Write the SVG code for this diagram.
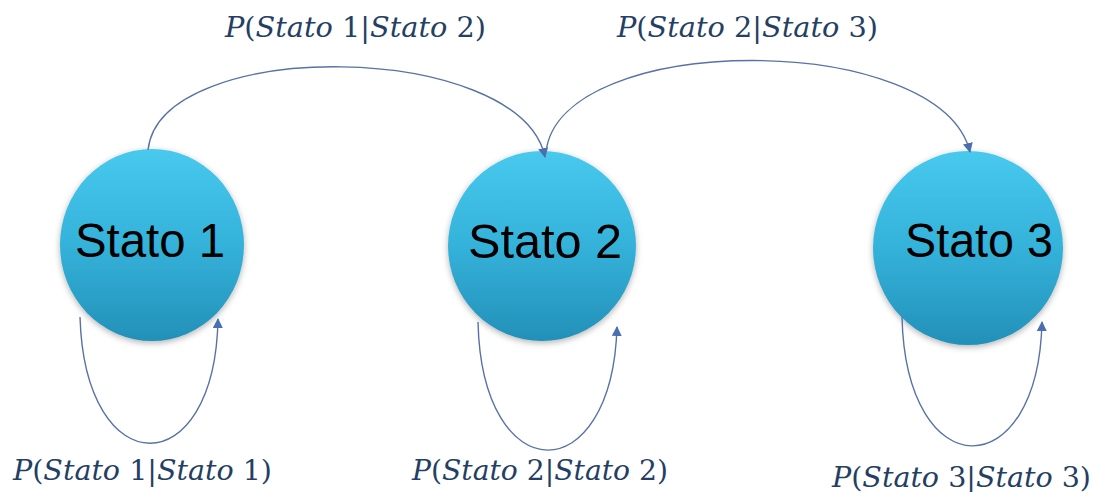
<svg xmlns="http://www.w3.org/2000/svg" width="1095" height="492" viewBox="0 0 1095 492">
<style>
.node-label{font-family:"Liberation Sans",Arial,sans-serif;font-size:48px;fill:#000}
.lbl{font-family:"DejaVu Serif","Liberation Serif",serif;font-size:27px;fill:#243f63}
.i{font-style:italic}
.edge{fill:none;stroke:#5872a6;stroke-width:1.4}
</style>
<defs>
<linearGradient id="ball" x1="0" y1="0" x2="0" y2="1">
<stop offset="0" stop-color="#48c9ee"/>
<stop offset="0.5" stop-color="#34b2da"/>
<stop offset="1" stop-color="#2390b8"/>
</linearGradient>
<filter id="sh" x="-20%" y="-20%" width="140%" height="140%">
<feDropShadow dx="0" dy="2" stdDeviation="3" flood-color="#000" flood-opacity="0.3"/>
</filter>
<marker id="arr" viewBox="0 0 10 10" refX="9" refY="5" markerWidth="10" markerHeight="10" markerUnits="userSpaceOnUse" orient="auto">
<path d="M0,0 L10,5 L0,10 z" fill="#4a6fb0"/>
</marker>
</defs>
<rect width="1095" height="492" fill="#fff"/>
<g id="node-stato1">
<ellipse cx="152" cy="245" rx="92" ry="96" fill="url(#ball)" filter="url(#sh)"/>
<text class="node-label" x="75" y="257" textLength="150" lengthAdjust="spacingAndGlyphs">Stato 1</text>
</g>
<g id="node-stato2">
<ellipse cx="542" cy="246" rx="94" ry="95" fill="url(#ball)" filter="url(#sh)"/>
<text class="node-label" x="468" y="258" textLength="154" lengthAdjust="spacingAndGlyphs">Stato 2</text>
</g>
<g id="node-stato3">
<ellipse cx="968" cy="248" rx="95" ry="97" fill="url(#ball)" filter="url(#sh)"/>
<text class="node-label" x="905" y="257" textLength="148" lengthAdjust="spacingAndGlyphs">Stato 3</text>
</g>
<g id="connectors">
<path class="edge" d="M148,150 C160,36 520,40 545,157" marker-end="url(#arr)"/>
<path class="edge" d="M546,152 C560,30 940,30 970,152" marker-end="url(#arr)"/>
<path class="edge" d="M80,317 C85,485 215,485 218,319" marker-end="url(#arr)"/>
<path class="edge" d="M478,322 C482,492 612,492 617,327" marker-end="url(#arr)"/>
<path class="edge" d="M902,317 C906,488 1038,488 1042,322" marker-end="url(#arr)"/>
</g>
<g id="labels">
<text class="lbl" x="225" y="37" textLength="261" lengthAdjust="spacingAndGlyphs"><tspan class="i">P</tspan>(<tspan class="i">Stato</tspan> 1|<tspan class="i">Stato</tspan> 2)</text>
<text class="lbl" x="617" y="37" textLength="261" lengthAdjust="spacingAndGlyphs"><tspan class="i">P</tspan>(<tspan class="i">Stato</tspan> 2|<tspan class="i">Stato</tspan> 3)</text>
<text class="lbl" x="13" y="480" textLength="259" lengthAdjust="spacingAndGlyphs"><tspan class="i">P</tspan>(<tspan class="i">Stato</tspan> 1|<tspan class="i">Stato</tspan> 1)</text>
<text class="lbl" x="412" y="480" textLength="256" lengthAdjust="spacingAndGlyphs"><tspan class="i">P</tspan>(<tspan class="i">Stato</tspan> 2|<tspan class="i">Stato</tspan> 2)</text>
<text class="lbl" x="832" y="487" textLength="259" lengthAdjust="spacingAndGlyphs"><tspan class="i">P</tspan>(<tspan class="i">Stato</tspan> 3|<tspan class="i">Stato</tspan> 3)</text>
</g>
</svg>
